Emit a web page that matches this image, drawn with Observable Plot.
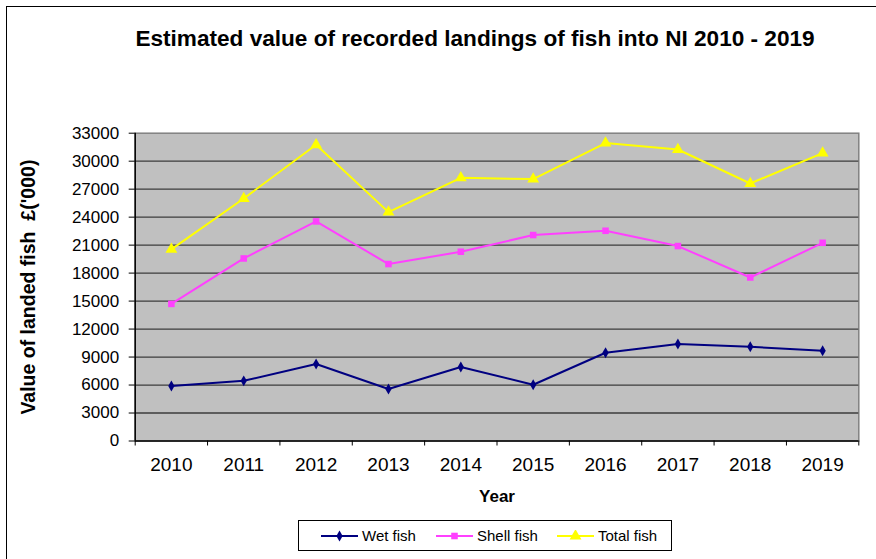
<!DOCTYPE html>
<html><head><meta charset="utf-8">
<script src="https://cdn.jsdelivr.net/npm/d3@7"></script>
<script src="https://cdn.jsdelivr.net/npm/@observablehq/plot@0.6"></script>
<style>
body{margin:0;background:#fff;font-family:"Liberation Sans",Arial,sans-serif;}
#page{position:relative;width:876px;height:559px;overflow:hidden;background:#fff;}
#frame{position:absolute;left:6px;top:6px;width:900px;height:600px;border:1px solid #000;box-sizing:border-box;}
#title{position:absolute;left:0;width:950px;top:26px;text-align:center;font-weight:bold;font-size:22.6px;line-height:26px;color:#000;}
#chart{position:absolute;left:0;top:100px;}
#legend{position:absolute;left:298px;top:520px;width:374px;height:31px;border:1px solid #000;box-sizing:border-box;background:#fff;}
.item{position:absolute;top:0;height:29px;display:flex;align-items:center;font-size:15px;color:#000;}
.item svg{margin-right:4px;}
</style>
</head><body>
<div id="page">
  <div id="frame"></div>
  <div id="title"></div>
  <div id="chart"></div>
  <div id="legend"></div>
</div>
<script>
const titleText = "Estimated value of recorded landings of fish into NI 2010 - 2019";
const yTitle = "Value of landed fish\u00a0\u00a0£('000)";
const xTitle = "Year";
const years = [2010, 2011, 2012, 2013, 2014, 2015, 2016, 2017, 2018, 2019];
const wetFish = [5900, 6450, 8250, 5570, 7930, 6030, 9460, 10400, 10100, 9680];
const shellFish = [14700, 19570, 23540, 18970, 20290, 22080, 22540, 20900, 17530, 21250];
const totalFish = [20540, 26000, 31760, 24540, 28220, 28080, 31940, 31250, 27610, 30870];
const yTicks = [0, 3000, 6000, 9000, 12000, 15000, 18000, 21000, 24000, 27000, 30000, 33000];
const seriesNames = ["Wet fish", "Shell fish", "Total fish"];
const seriesColors = ["#000080", "#FF40FF", "#FFFF00"];
const seriesSymbols = ["diamond", "square", "triangle"];
const seriesR = [3.3, 3.7, 4.4];

document.getElementById("title").textContent = titleText;

const seriesValues = [wetFish, shellFish, totalFish];
const rows = seriesNames.map((name, s) => years.map((yr, i) => ({year: yr, series: name, value: seriesValues[s][i]})));
const boundaries = [...years.map(y => y - 0.5), years[years.length - 1] + 0.5];

const marks = [
  Plot.frame({fill: "#C0C0C0", stroke: "#808080", strokeWidth: 1.5}),
  Plot.ruleY(yTicks.filter(d => d > 0 && d < 33000), {stroke: "#3c3c3c", strokeWidth: 1.3}),
  Plot.ruleY([0], {stroke: "#000", strokeWidth: 1.3}),
  Plot.ruleX([boundaries[0]], {stroke: "#000", strokeWidth: 1.5}),
  Plot.axisY({ticks: yTicks, tickSize: 6, tickPadding: 10, fontSize: 17, tickFormat: d3.format("d"), label: null, stroke: "#000", color: "#000"}),
  Plot.axisX({ticks: boundaries, tickSize: 5, tickFormat: () => "", label: null, stroke: "#000"}),
  Plot.axisX({ticks: years, tickSize: 0, tickPadding: 16, fontSize: 19, tickFormat: d => String(d), label: null, color: "#000"})
];
rows.forEach((r, s) => {
  marks.push(Plot.line(r, {x: "year", y: "value", stroke: seriesColors[s], strokeWidth: 2}));
  marks.push(Plot.dot(r, {x: "year", y: "value", fill: seriesColors[s], stroke: "none", symbol: seriesSymbols[s], r: seriesR[s]}));
});
marks.push(Plot.text([yTitle], {frameAnchor: "left", textAnchor: "middle", lineAnchor: "middle", dx: -106, rotate: -90, fontWeight: "bold", fontSize: 19.5, fill: "#000"}));
marks.push(Plot.text([xTitle], {frameAnchor: "bottom", lineAnchor: "middle", dy: 56, fontWeight: "bold", fontSize: 17, fill: "#000"}));

const chart = Plot.plot({
  width: 876,
  height: 410,
  marginLeft: 134.7,
  marginRight: 17.7,
  marginTop: 32.7,
  marginBottom: 69.5,
  x: {domain: [boundaries[0], boundaries[boundaries.length - 1]]},
  y: {domain: [0, 33000]},
  style: {fontFamily: "'Liberation Sans', Arial, sans-serif", background: "transparent", overflow: "visible", color: "#000"},
  marks
});
document.getElementById("chart").appendChild(chart);

// legend
const legend = document.getElementById("legend");
const offsets = [22, 137, 258];
seriesNames.forEach((name, s) => {
  const item = document.createElement("div");
  item.className = "item";
  item.style.left = offsets[s] + "px";
  const sym = d3.symbol(s === 0 ? d3.symbolDiamond : s === 1 ? d3.symbolSquare : d3.symbolTriangle, Math.PI * seriesR[s] * seriesR[s])();
  item.innerHTML = `<svg width="37" height="12"><line x1="0" x2="37" y1="6" y2="6" stroke="${seriesColors[s]}" stroke-width="2"/><path transform="translate(18.5,6)" d="${sym}" fill="${seriesColors[s]}"/></svg><span>${name}</span>`;
  legend.appendChild(item);
});
</script>
</body></html>
